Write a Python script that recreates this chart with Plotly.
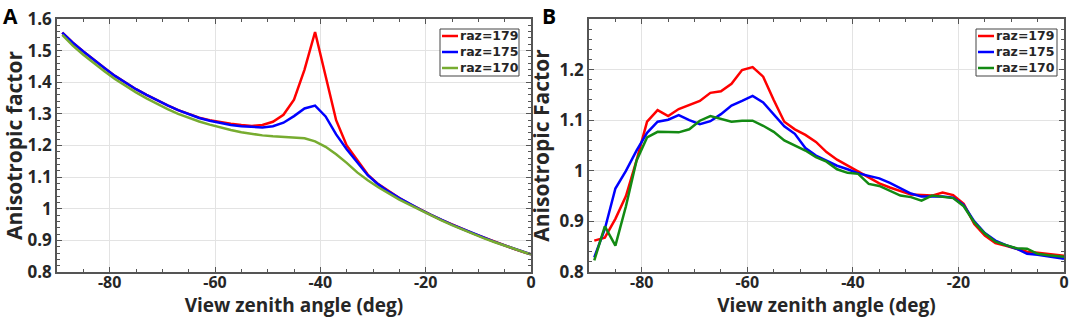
import plotly.graph_objects as go

# ---------------- data ----------------
angles = [-89, -87, -85, -83, -81, -79, -77, -75, -73, -71, -69, -67, -65, -63, -61,
          -59, -57, -55, -53, -51, -49, -47, -45, -43, -41, -39, -37, -35, -33, -31,
          -29, -27, -25, -23, -21, -19, -17, -15, -13, -11, -9, -7, -5, -3, -1, 0]

series_names = ["raz=179", "raz=175", "raz=170"]

# Panel A (model)
a_raz179 = [1.557, 1.525, 1.497, 1.470, 1.445, 1.420, 1.398, 1.378, 1.360, 1.343, 1.327, 1.312,
            1.299, 1.288, 1.280, 1.274, 1.269, 1.265, 1.262, 1.265, 1.275, 1.297, 1.345, 1.440,
            1.559, 1.420, 1.280, 1.200, 1.152, 1.108, 1.078, 1.055, 1.034, 1.015, 0.997, 0.981,
            0.965, 0.950, 0.936, 0.922, 0.909, 0.896, 0.884, 0.872, 0.861, 0.856]
a_raz175 = [1.557, 1.525, 1.497, 1.470, 1.445, 1.420, 1.398, 1.378, 1.360, 1.343, 1.327, 1.312,
            1.299, 1.287, 1.278, 1.271, 1.265, 1.261, 1.258, 1.257, 1.261, 1.272, 1.293, 1.317,
            1.326, 1.292, 1.235, 1.188, 1.147, 1.106, 1.077, 1.054, 1.034, 1.015, 0.997, 0.981,
            0.965, 0.950, 0.936, 0.922, 0.909, 0.896, 0.884, 0.872, 0.861, 0.856]
a_raz170 = [1.550, 1.516, 1.487, 1.460, 1.435, 1.410, 1.388, 1.368, 1.349, 1.331, 1.315, 1.300,
            1.287, 1.276, 1.266, 1.257, 1.249, 1.242, 1.236, 1.232, 1.229, 1.227, 1.226, 1.223,
            1.213, 1.196, 1.172, 1.145, 1.115, 1.090, 1.068, 1.048, 1.029, 1.012, 0.995, 0.979,
            0.963, 0.948, 0.934, 0.920, 0.907, 0.895, 0.883, 0.871, 0.861, 0.856]

# Panel B (observed)
b_raz179 = [0.862, 0.868, 0.905, 0.950, 1.020, 1.097, 1.120, 1.108, 1.122, 1.130, 1.138, 1.154,
            1.157, 1.172, 1.199, 1.205, 1.186, 1.140, 1.097, 1.082, 1.071, 1.057, 1.037, 1.022,
            1.010, 0.998, 0.986, 0.975, 0.967, 0.960, 0.953, 0.952, 0.951, 0.957, 0.952, 0.935,
            0.895, 0.872, 0.857, 0.852, 0.846, 0.840, 0.838, 0.836, 0.834, 0.832]
b_raz175 = [0.829, 0.885, 0.965, 1.000, 1.040, 1.075, 1.097, 1.101, 1.110, 1.100, 1.092, 1.098,
            1.112, 1.129, 1.138, 1.148, 1.135, 1.112, 1.088, 1.073, 1.045, 1.030, 1.020, 1.010,
            1.003, 0.995, 0.990, 0.985, 0.976, 0.966, 0.955, 0.949, 0.949, 0.949, 0.947, 0.932,
            0.900, 0.877, 0.862, 0.853, 0.846, 0.836, 0.834, 0.831, 0.827, 0.826]
b_raz170 = [0.823, 0.890, 0.852, 0.930, 1.020, 1.066, 1.077, 1.076, 1.076, 1.082, 1.099, 1.108,
            1.102, 1.097, 1.099, 1.099, 1.089, 1.077, 1.060, 1.050, 1.040, 1.027, 1.018, 1.003,
            0.996, 0.994, 0.974, 0.970, 0.960, 0.951, 0.948, 0.941, 0.951, 0.949, 0.946, 0.930,
            0.898, 0.876, 0.860, 0.853, 0.847, 0.846, 0.836, 0.833, 0.831, 0.830]

x_ticks = [-80, -60, -40, -20, 0]
a_yticks = [0.8, 0.9, 1.0, 1.1, 1.2, 1.3, 1.4, 1.5, 1.6]
a_yticktext = ["0.8", "0.9", "1", "1.1", "1.2", "1.3", "1.4", "1.5", "1.6"]
b_yticks = [0.8, 0.9, 1.0, 1.1, 1.2]
b_yticktext = ["0.8", "0.9", "1", "1.1", "1.2"]

# ---------------- styling ----------------
W, H = 1072, 318
FONT = "Open Sans"
LEG_FONT = "DejaVu Sans"
TXT = "#262626"
colors_a = ["#ff0000", "#0000ff", "#77ac30"]
colors_b = ["#ff0000", "#0000ff", "#138a13"]


def px_x(p):
    return p / W


def px_y(p):
    return 1 - p / H


fig = go.Figure()
for name, ys, c in zip(series_names, [a_raz179, a_raz175, a_raz170], colors_a):
    fig.add_trace(go.Scatter(x=angles, y=ys, mode="lines", name=name, showlegend=False,
                             line=dict(color=c, width=2.5), xaxis="x", yaxis="y"))
for name, ys, c in zip(series_names, [b_raz179, b_raz175, b_raz170], colors_b):
    fig.add_trace(go.Scatter(x=angles, y=ys, mode="lines", name=name, showlegend=False,
                             line=dict(color=c, width=2.5), xaxis="x2", yaxis="y2"))

common_axis = dict(
    showline=True, linecolor="#555555", linewidth=1.5, mirror="allticks",
    ticks="inside", ticklen=5, tickwidth=1.2, tickcolor="#555555",
    showgrid=True, gridcolor="#e3e3e3", gridwidth=1, zeroline=False,
    automargin=False, ticklabeloverflow="allow",
    tickfont=dict(family=FONT, size=17, color=TXT, weight="bold"),
)

xdomA = [px_x(57), px_x(531)]
xdomB = [px_x(589), px_x(1064)]
ydom = [px_y(272), px_y(19)]

xaxis_common = dict(common_axis, range=[-90, 0], tickvals=x_ticks,
                    ticktext=[str(v) for v in x_ticks], ticklabelstandoff=-5,
                    tickfont=dict(family=FONT, size=16, color=TXT, weight="bold"),
                    minor=dict(dtick=5, ticks="inside", ticklen=3, tickcolor="#555555", showgrid=False),
                    title=dict(text="View zenith angle (deg)", standoff=6,
                               font=dict(family=FONT, size=19, color=TXT, weight="bold")))

yminor = dict(dtick=0.02, ticks="inside", ticklen=3, tickcolor="#555555", showgrid=False)

annotations = [
    dict(text="A", x=px_x(1), y=px_y(0), xref="paper", yref="paper",
         xanchor="left", yanchor="top", showarrow=False,
         font=dict(family=FONT, size=21, color="black", weight="bold")),
    dict(text="B", x=px_x(540), y=px_y(0), xref="paper", yref="paper",
         xanchor="left", yanchor="top", showarrow=False,
         font=dict(family=FONT, size=21, color="black", weight="bold")),
]
shapes = []

# legends (one per panel), drawn as a framed key
legend_boxes = [
    dict(x0=440, x1=519, y0=29, y1=76, lx0=442, lx1=458, tx=459, colors=colors_a),
    dict(x0=976, x1=1057, y0=29, y1=76, lx0=978, lx1=994, tx=995, colors=colors_b),
]
legend_rows = [36, 52, 68]
for lb in legend_boxes:
    shapes.append(dict(type="rect", xref="paper", yref="paper",
                       x0=px_x(lb["x0"]), x1=px_x(lb["x1"]),
                       y0=px_y(lb["y1"]), y1=px_y(lb["y0"]),
                       line=dict(color="#444444", width=1), fillcolor="white", layer="above"))
    for name, c, ry in zip(series_names, lb["colors"], legend_rows):
        shapes.append(dict(type="line", xref="paper", yref="paper",
                           x0=px_x(lb["lx0"]), x1=px_x(lb["lx1"]),
                           y0=px_y(ry), y1=px_y(ry),
                           line=dict(color=c, width=2.5), layer="above"))
        annotations.append(dict(text=name, x=px_x(lb["tx"]), y=px_y(ry),
                                xref="paper", yref="paper", xanchor="left", yanchor="middle",
                                showarrow=False, borderpad=0,
                                font=dict(family=LEG_FONT, size=12.5, color=TXT, weight="bold")))

fig.update_layout(
    width=W, height=H,
    margin=dict(l=0, r=0, t=0, b=0),
    paper_bgcolor="white", plot_bgcolor="white",
    xaxis=dict(xaxis_common, domain=xdomA, anchor="y"),
    yaxis=dict(common_axis, domain=ydom, anchor="x", range=[0.8, 1.6],
               tickvals=a_yticks, ticktext=a_yticktext, minor=yminor,
               title=dict(text="Anisotropic factor", standoff=4,
                          font=dict(family=FONT, size=21, color=TXT, weight="bold"))),
    xaxis2=dict(xaxis_common, domain=xdomB, anchor="y2"),
    yaxis2=dict(common_axis, domain=ydom, anchor="x2", range=[0.8, 1.3],
                tickvals=b_yticks, ticktext=b_yticktext, minor=yminor,
                title=dict(text="Anisotropic Factor", standoff=4,
                           font=dict(family=FONT, size=21, color=TXT, weight="bold"))),
    showlegend=False,
    annotations=annotations,
    shapes=shapes,
)

fig.write_html("out.html", config={"displayModeBar": False},
               post_script="document.body.style.margin='0';")
